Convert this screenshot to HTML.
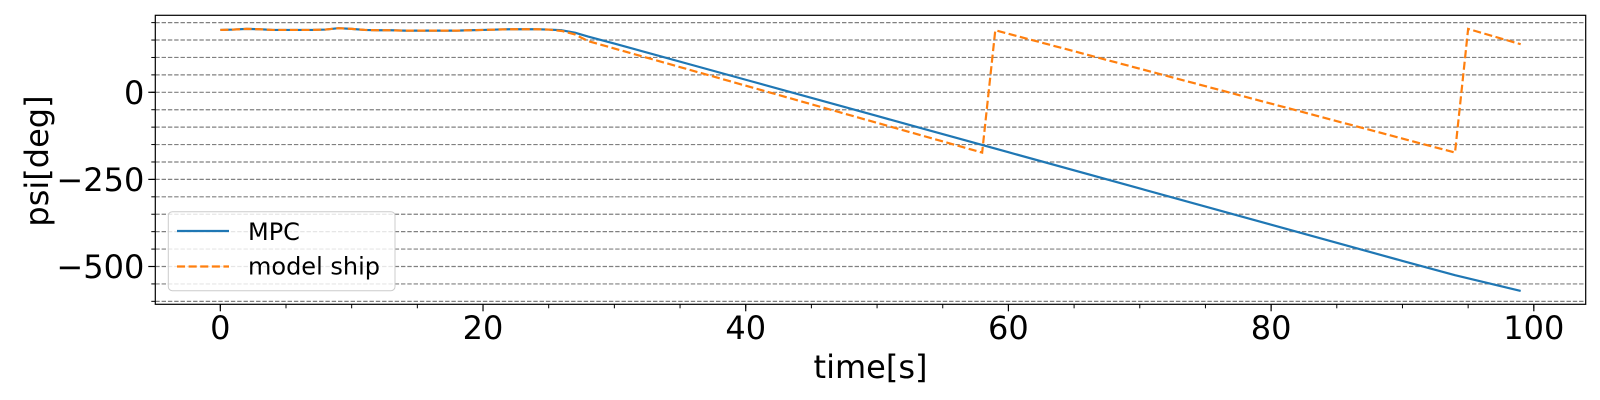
<!DOCTYPE html>
<html><head><meta charset="utf-8"><style>
html,body{margin:0;padding:0;background:#fff;}
svg{display:block;font-family:"DejaVu Sans","Liberation Sans",sans-serif;}
</style></head><body>
<svg id="chart" width="1600" height="400" xmlns="http://www.w3.org/2000/svg"></svg>
<script>
const mpcT = [0,1,2,3,4,5,6,7,8,9,10,11,12,13,14,15,16,17,18,19,20,21,22,23,24,25,26,27,28,30,40,50,60,70,80,90,94,99];
const mpcPsi = [179,180,182,181,179,179,179,179,180,184,182,179,178,178,177,177,177,177,177,178,179,180,181,181,181,180,178,171,160,140,36,-68,-172,-276,-380,-484,-525,-570];
const shipT = [0,1,2,3,4,5,6,7,8,9,10,11,12,13,14,15,16,17,18,19,20,21,22,23,24,25,26,27,28,58,59,94,95,99];
const shipPsi = [179,180,182,181,179,179,179,179,180,184,182,179,178,178,177,177,177,177,177,178,179,180,181,181,181,180,176,166,147,-173,178,-173,182,138];
const xTicks = [0,20,40,60,80,100];
const yTicks = [-500,-250,0];
const xMinor = [0,5,10,15,20,25,30,35,40,45,50,55,60,65,70,75,80,85,90,95,100];
const yGrid = [-600,-550,-500,-450,-400,-350,-300,-250,-200,-150,-100,-50,0,50,100,150,200];

const L=155.3,R=1585.7,T=15.3,B=304.3;
const xMin=-4.95,xMax=103.95,yMin=-608.5,yMax=221;
const sx=v=>L+(v-xMin)/(xMax-xMin)*(R-L);
const sy=v=>B-(v-yMin)/(yMax-yMin)*(B-T);
const NS="http://www.w3.org/2000/svg";
const svg=document.getElementById('chart');
function mk(tag,attrs,parent){const e=document.createElementNS(NS,tag);for(const k in attrs)e.setAttribute(k,attrs[k]);(parent||svg).appendChild(e);return e;}

const grid=mk('g',{});


yGrid.forEach(v=>{const l=mk('line',{x1:L,x2:R,y1:sy(v),y2:sy(v),stroke:'#808080','stroke-width':1.2,'stroke-dasharray':'4.4,1.9'},grid);

});

function path(ts,vs){return ts.map((t,i)=>(i?'L':'M')+sx(t).toFixed(2)+','+sy(vs[i]).toFixed(2)).join(' ');}
const p1=mk('path',{d:path(mpcT,mpcPsi),fill:'none',stroke:'#1f77b4','stroke-width':2.2,'stroke-linejoin':'round'});


const p2=mk('path',{d:path(shipT,shipPsi),fill:'none',stroke:'#ff7f0e','stroke-width':2.2,'stroke-dasharray':'8.1,3.5'});



const frame=mk('rect',{x:L,y:T,width:R-L,height:B-T,fill:'none',stroke:'#000','stroke-width':1.2});



xMinor.forEach(v=>{const t=mk('line',{x1:sx(v),x2:sx(v),y1:B,y2:B+4,stroke:'#000','stroke-width':1});

});
xTicks.forEach(v=>{const t=mk('line',{x1:sx(v),x2:sx(v),y1:B,y2:B+7,stroke:'#000','stroke-width':1.2});


const tx=mk('text',{x:sx(v),y:339,'text-anchor':'middle','font-size':32,fill:'#000'});tx.textContent=v;

});
yGrid.forEach(v=>{const t=mk('line',{x1:L-4,x2:L,y1:sy(v),y2:sy(v),stroke:'#000','stroke-width':1});

});
yTicks.forEach(v=>{const t=mk('line',{x1:L-7,x2:L,y1:sy(v),y2:sy(v),stroke:'#000','stroke-width':1.2});


const tx=mk('text',{x:L-11,y:sy(v)+11.5,'text-anchor':'end','font-size':32,fill:'#000'});tx.textContent=(v<0?'\u2212'+(-v):v);

});

const xl=mk('text',{x:(L+R)/2,y:378,'text-anchor':'middle','font-size':32,fill:'#000'});xl.textContent='time[s]';


const yl=mk('text',{x:0,y:0,'text-anchor':'middle','font-size':32,fill:'#000',transform:'translate(48,161) rotate(-90)'});yl.textContent='psi[deg]';



const lg=mk('g',{});


mk('rect',{x:168.3,y:211.7,width:226.7,height:79,rx:4,fill:'#fff','fill-opacity':0.8,stroke:'#ccc','stroke-width':1},lg);
const e1=mk('g',{},lg);


mk('line',{x1:177,x2:229,y1:231,y2:231,stroke:'#1f77b4','stroke-width':2.2},e1);
const t1=mk('text',{x:248,y:240,'font-size':24,fill:'#000'},e1);t1.textContent='MPC';
const e2=mk('g',{},lg);


mk('line',{x1:177,x2:229,y1:266.5,y2:266.5,stroke:'#ff7f0e','stroke-width':2.2,'stroke-dasharray':'8.1,3.5'},e2);
const t2=mk('text',{x:248,y:274.5,'font-size':24,fill:'#000'},e2);t2.textContent='model ship';
</script>
</body></html>
